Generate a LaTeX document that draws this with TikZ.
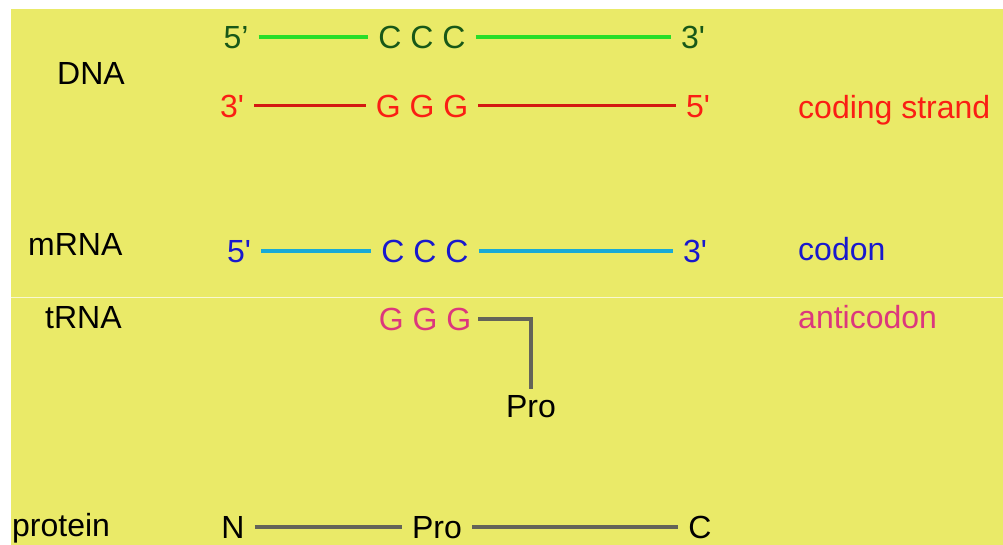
\documentclass[tikz,border=0pt]{standalone}
\usepackage{fontspec}
\setmainfont{Liberation Sans}
\usepackage{tikz}
\definecolor{paper}{RGB}{234,234,104}
\definecolor{leaf}{RGB}{24,88,24}
\definecolor{lime}{RGB}{40,222,40}
\definecolor{rust}{RGB}{250,30,20}
\definecolor{ink}{RGB}{25,25,205}
\definecolor{sky}{RGB}{25,170,215}
\definecolor{rose}{RGB}{220,55,125}
\definecolor{stem}{RGB}{100,100,88}

\tikzset{
  base/.style={font=\fontsize{32}{36}\selectfont, text height=23pt, text depth=0pt,
    inner xsep=10pt, inner ysep=0pt},
  tag/.style={font=\fontsize{32}{36}\selectfont, inner sep=0pt, anchor=base west},
  strand/.style={line width=3.5pt}
}

\begin{document}
\begin{tikzpicture}[x=1pt,y=-1pt]
      \useasboundingbox (0,0) rectangle (1003,545);
      \fill[white] (0,0) rectangle (1003,545);
      \fill[paper] (11,9) rectangle (1003,545);
      \draw[white, opacity=0.7, line width=0.8pt] (11,297) -- (1003,297);

      \node (dna) at (57,85) [tag] {DNA};
      \node (mrna) at (28,255) [tag] {mRNA};
      \node (trna) at (45,328) [tag] {tRNA};
      \node (prot) at (12,536) [tag] {protein};

      \node (t5) at (236,37) [base, text=leaf] {5’};
      \node (tC) at (422,37) [base, text=leaf] {C C C};
      \node (t3) at (693,37) [base, text=leaf] {3\textquotesingle};
      \node (b3) at (232,106) [base, text=rust] {3\textquotesingle};
      \node (bG) at (422,106) [base, text=rust] {G G G};
      \node (b5) at (698,106) [base, text=rust] {5\textquotesingle};
      \node (code) at (798,119) [tag, text=rust] {coding strand};
      \draw[strand, lime] (t5) to (tC) to (t3);
      \draw[strand, rust!85!black, line width=3pt] (b3) to (bG) to (b5);

      \node (m5) at (239,251) [base, text=ink] {5\textquotesingle};
      \node (mC) at (425,251) [base, text=ink] {C C C};
      \node (m3) at (695,251) [base, text=ink] {3\textquotesingle};
      \node (codon) at (798,261) [tag, text=ink] {codon};
      \draw[strand, sky] (m5) to (mC) to (m3);

      \node (rG) at (425,319) [base, text=rose, inner xsep=7pt] {G G G};
      \node (rPro) at (531,406) [base, inner ysep=5pt] {Pro};
      \node (anti) at (798,328) [tag, text=rose] {anticodon};
      \draw[strand, stem] (rG) -| (rPro);

      \node (pN) at (233,527) [base] {N};
      \node (pPro) at (437,527) [base] {Pro};
      \node (pC) at (700,527) [base] {C};
      \draw[strand, stem] (pN) to (pPro) to (pC);
\end{tikzpicture}
\end{document}
